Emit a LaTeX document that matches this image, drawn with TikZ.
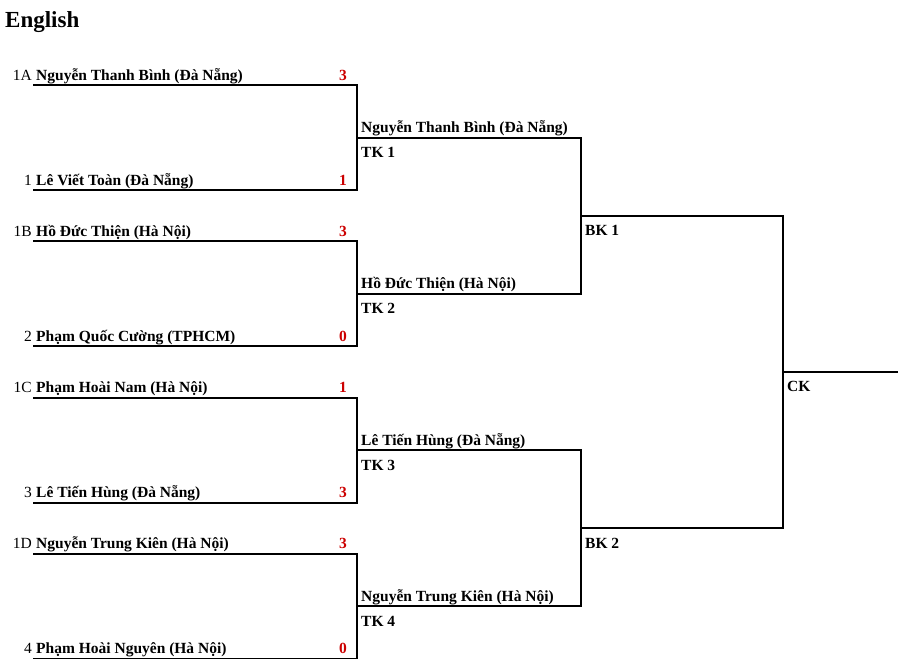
\documentclass[tikz,border=0pt]{standalone}
\usepackage{fontspec}
\setmainfont{Liberation Serif}
\usetikzlibrary{positioning,calc}
\definecolor{scorered}{RGB}{204,0,0}
\tikzset{
    % bracket lines
    bline/.style={line width=2pt},
    % player names
    pname/.style={font=\bfseries\fontsize{15.5}{18}\selectfont, anchor=base west, inner sep=0pt},
    seed/.style={font=\fontsize{15.5}{18}\selectfont, anchor=base east, inner sep=0pt},
    score/.style={font=\bfseries\fontsize{15.5}{18}\selectfont, text=scorered, anchor=base, inner sep=0pt},
    % round labels
    rlabel/.style={font=\bfseries\fontsize{15.5}{18}\selectfont, anchor=base west, inner sep=0pt}
}
\begin{document}
\begin{tikzpicture}[x=1pt,y=-1pt]
\useasboundingbox (0,0) rectangle (898,659);
\node[anchor=base west, inner sep=0pt, font=\bfseries\fontsize{23}{26}\selectfont] (title) at (5,27) {English};
%Round 1
\foreach \k/\ty/\sa/\na/\pa/\sb/\nb/\pb in {
  1/85/1A/Nguyễn Thanh Bình (Đà Nẵng)/3/1/Lê Viết Toàn (Đà Nẵng)/1,
  2/241.3/1B/Hồ Đức Thiện (Hà Nội)/3/2/Phạm Quốc Cường (TPHCM)/0,
  3/397.6/1C/Phạm Hoài Nam (Hà Nội)/1/3/Lê Tiến Hùng (Đà Nẵng)/3,
  4/553.9/1D/Nguyễn Trung Kiên (Hà Nội)/3/4/Phạm Hoài Nguyên (Hà Nội)/0}
{
  \coordinate (a\k) at (33,\ty);
  \coordinate (b\k) at (33,\ty+105);
  \coordinate (m\k) at (357,\ty+52.5);
  \node[seed] (sa\k) at (32,\ty-5) {\sa};
  \node[pname] (na\k) at (36,\ty-5) {\na};
  \node[score] (pa\k) at (343,\ty-5) {\pa};
  \node[seed] (sb\k) at (32,\ty+100) {\sb};
  \node[pname] (nb\k) at (36,\ty+100) {\nb};
  \node[score] (pb\k) at (343,\ty+100) {\pb};
  \draw[bline] (a\k) -- (a\k -| m\k) -- (b\k -| m\k) -- (b\k);
}
%Round 2 (TK)
\coordinate (x2) at (581,0);
\foreach \k/\nw in {1/Nguyễn Thanh Bình (Đà Nẵng), 2/Hồ Đức Thiện (Hà Nội),
  3/Lê Tiến Hùng (Đà Nẵng), 4/Nguyễn Trung Kiên (Hà Nội)}
{
  \coordinate (tk\k) at (m\k -| x2);
  \node[pname] (w\k) at ([shift={(4pt,5pt)}]m\k) {\nw};
  \node[rlabel] (tkl\k) at ([shift={(4pt,-20pt)}]m\k) {TK \k};
}
\draw[bline] (m1) -- (tk1) -- (tk2) -- (m2);
\draw[bline] (m3) -- (tk3) -- (tk4) -- (m4);
%Round 3 (BK)
\coordinate (x3) at (783,0);
\coordinate (bk1) at ($(tk1)!0.5!(tk2)$);
\coordinate (bk2) at ($(tk3)!0.5!(tk4)$);
\node[rlabel] (bkl1) at ([shift={(4pt,-20pt)}]bk1) {BK 1};
\node[rlabel] (bkl2) at ([shift={(4pt,-20pt)}]bk2) {BK 2};
\draw[bline] (bk1) -- (bk1 -| x3) -- (bk2 -| x3) -- (bk2);
%Final (CK)
\coordinate (ck) at ($(bk1 -| x3)!0.5!(bk2 -| x3)$);
\coordinate (xend) at (898,0);
\node[rlabel] (ckl) at ([shift={(4pt,-20pt)}]ck) {CK};
\draw[bline] (ck) -- (ck -| xend);
\end{tikzpicture}
\end{document}
